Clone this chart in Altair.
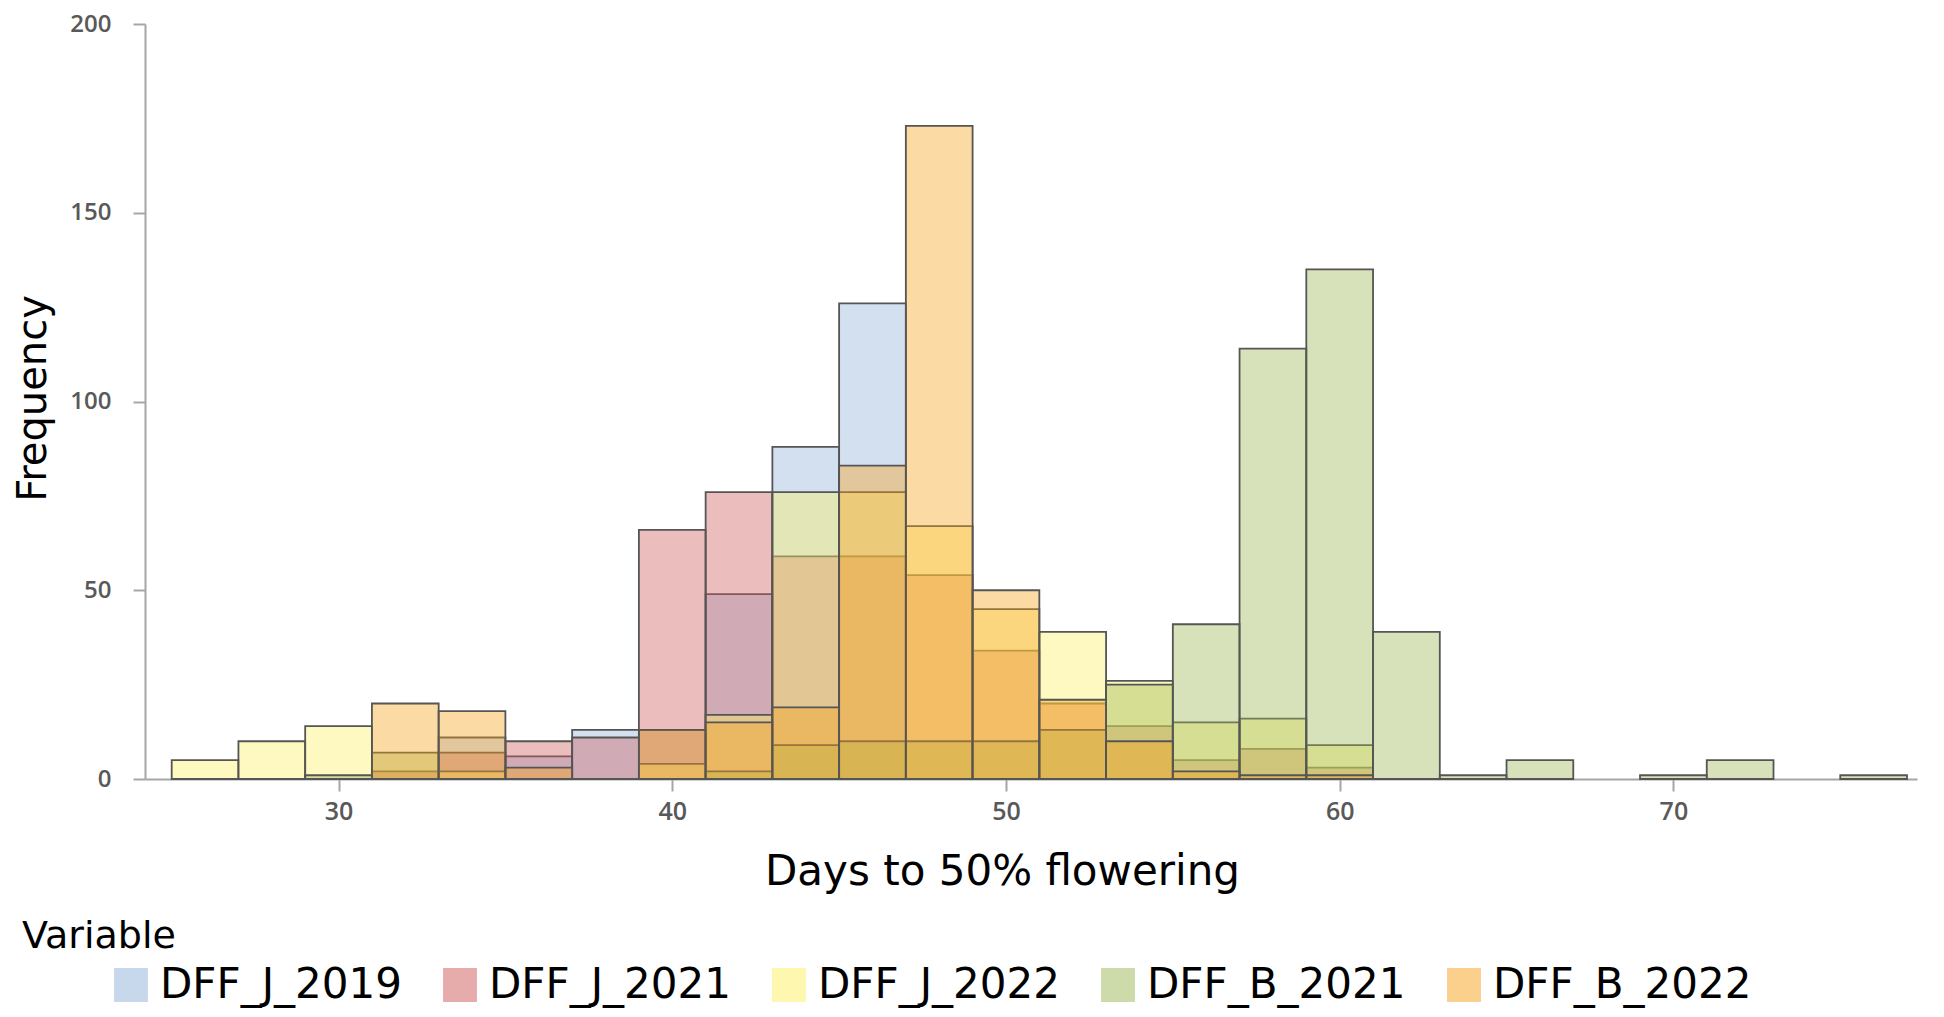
import altair as alt
import pandas as pd

# Histogram bins (width 2 days), start values
bin_starts = list(range(25, 77, 2))  # 25,27,...,75

series = ["DFF_J_2019", "DFF_J_2021", "DFF_J_2022", "DFF_B_2021", "DFF_B_2022"]
colors = ["#91B2DA", "#CD5A5A", "#FDF062", "#9BB653", "#F8A21C"]

#           25 27 29 31 33 35 37 39 41 43  45   47   49  51  53  55  57   59   61  63 65 67 69 71 73 75
dff_j_2019 = [0, 0, 0, 0, 11, 6, 13, 13, 49, 88, 126, 0,  0,  0,  0,  0,  0,   0,   0,  0, 0, 0, 0, 0, 0, 0]
dff_j_2021 = [0, 0, 0, 2, 7, 10, 11, 66, 76, 59, 59, 54,  34, 20, 14, 5,  8,   3,   0,  0, 0, 0, 0, 0, 0, 0]
dff_j_2022 = [5, 10, 14, 0, 2, 0, 0, 4, 17, 76, 76, 67,  45, 39, 26, 15, 16,  9,   0,  0, 0, 0, 0, 0, 0, 0]
dff_b_2021 = [0, 0, 1, 7, 0, 0, 0, 0, 2, 9,  10, 10,  10, 13, 25, 41, 114, 135, 39, 1, 5, 0, 1, 5, 0, 1]
dff_b_2022 = [0, 0, 0, 20, 18, 3, 0, 13, 15, 19, 83, 173, 50, 21, 10, 2, 1,   1,   0,  0, 0, 0, 0, 0, 0, 0]

counts = [dff_j_2019, dff_j_2021, dff_j_2022, dff_b_2021, dff_b_2022]

rows = []
for s, vals in zip(series, counts):
    for b, v in zip(bin_starts, vals):
        if v > 0:
            rows.append({"Variable": s, "start": b, "end": b + 2, "count": v})
df = pd.DataFrame(rows)

x_ticks = [30, 40, 50, 60, 70]
y_ticks = [0, 50, 100, 150, 200]

tick_label_font = "Open Sans"

bars = alt.Chart(df).mark_rect(
    stroke="#555555", strokeWidth=1.8, strokeOpacity=1, fillOpacity=0.4
).encode(
    x=alt.X(
        "start:Q",
        scale=alt.Scale(domain=[24.2, 77.3], nice=False, zero=False),
        axis=alt.Axis(
            values=x_ticks, grid=False, tickSize=12, tickWidth=2, tickColor="#A6A6A6",
            domainColor="#A6A6A6", domainWidth=2,
            labelFont=tick_label_font, labelFontSize=25, labelFontWeight=600,
            labelColor="#595959", labelPadding=8,
            title="Days to 50% flowering", titleFont="DejaVu Sans", titleFontSize=42,
            titleFontWeight="normal", titleColor="black",
            titleX=857, titleY=92, titleAlign="center", titleBaseline="middle",
        ),
    ),
    x2="end:Q",
    y=alt.Y(
        "count:Q",
        scale=alt.Scale(domain=[0, 200], nice=False),
        axis=alt.Axis(
            values=y_ticks, grid=False, tickSize=12, tickWidth=2, tickColor="#A6A6A6",
            domainColor="#A6A6A6", domainWidth=2,
            labelFont=tick_label_font, labelFontSize=24, labelFontWeight=600,
            labelColor="#595959", labelPadding=22,
            title="Frequency", titleFont="DejaVu Sans", titleFontSize=40,
            titleFontWeight="normal", titleColor="black",
            titleX=-112, titleY=374, titleAngle=270, titleAlign="center", titleBaseline="middle",
        ),
    ),
    y2=alt.datum(0),
    color=alt.Color(
        "Variable:N",
        scale=alt.Scale(domain=series, range=colors),
        legend=alt.Legend(
            title=None, orient="none", legendX=-35, legendY=940, direction="horizontal",
            symbolType="square", symbolSize=1150, symbolStrokeWidth=0, symbolOpacity=0.5,
            labelFont="DejaVu Sans", labelFontSize=42, labelColor="black",
            labelOffset=8, columnPadding=37, labelLimit=500, padding=0,
        ),
    ),
)

legend_title = alt.Chart(pd.DataFrame({"t": ["Variable"]})).mark_text(
    align="left", baseline="middle", font="DejaVu Sans", fontSize=38, color="black"
).encode(
    x=alt.value(-123), y=alt.value(913), text="t:N"
)

chart = alt.layer(bars, legend_title).properties(
    width=1772, height=755,
    autosize=alt.AutoSizeParams(type="none"),
    padding={"left": 137, "top": 16, "right": 19, "bottom": 230},
    background="white",
).configure_view(stroke=None)

chart.save("out.html", embed_options={"renderer": "svg", "actions": False})
